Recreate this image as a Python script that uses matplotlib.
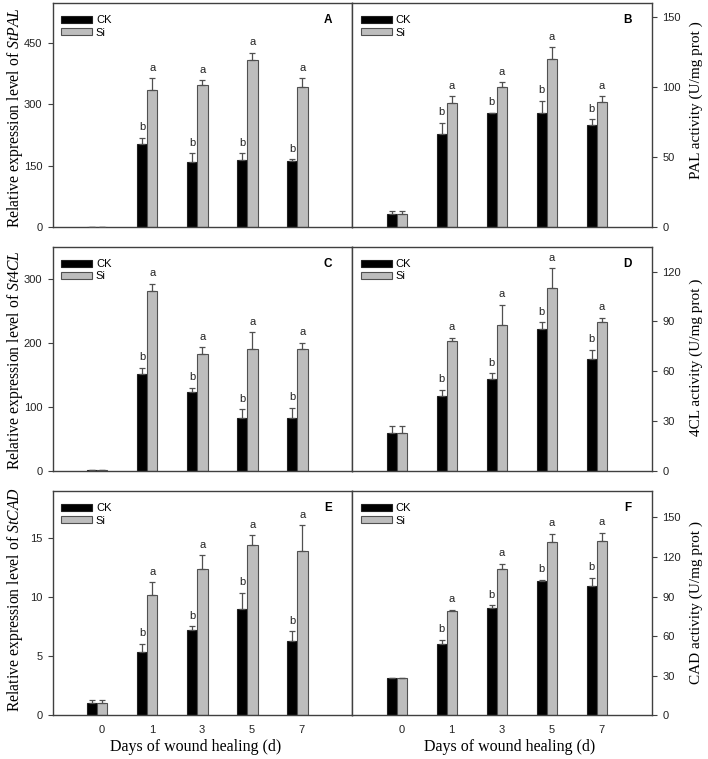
import matplotlib
matplotlib.use('Agg')
import matplotlib.pyplot as plt
import numpy as np

plt.rcParams['font.family'] = ['Liberation Sans', 'DejaVu Sans']
plt.rcParams['mathtext.fontset'] = 'custom'
plt.rcParams['mathtext.rm'] = 'Liberation Serif'
plt.rcParams['mathtext.it'] = 'Liberation Serif:italic'

# ---------------- data ----------------
days = ['0', '1', '3', '5', '7']
ck_letters = ['', 'b', 'b', 'b', 'b']
si_letters = ['', 'a', 'a', 'a', 'a']

A_ck = [1, 202, 159, 163, 162]
A_ck_err = [0.5, 16, 22, 17, 4]
A_si = [1, 336, 347, 409, 341]
A_si_err = [0.5, 27, 12, 17, 22]

B_ck = [9.5, 66.5, 81.2, 81.4, 73.1]
B_ck_err = [2, 8, 0.5, 8.8, 3.8]
B_si = [9.5, 89, 100.2, 120.3, 89.7]
B_si_err = [2, 4.7, 3.3, 8.3, 4]

C_ck = [1, 152, 123.5, 83, 82]
C_ck_err = [0.3, 9, 6.7, 13.5, 17]
C_si = [1, 281, 182, 190, 190]
C_si_err = [0.3, 11, 11, 27, 10]

D_ck = [22.8, 45.2, 55.6, 85.6, 67.6]
D_ck_err = [4.2, 3.8, 3.4, 3.8, 5.4]
D_si = [22.8, 78, 88, 110, 89.6]
D_si_err = [4.2, 2.2, 12, 12, 2.6]

E_ck = [1.0, 5.34, 7.25, 8.99, 6.32]
E_ck_err = [0.28, 0.73, 0.28, 1.4, 0.81]
E_si = [1.0, 10.22, 12.39, 14.41, 13.9]
E_si_err = [0.28, 1.07, 1.18, 0.84, 2.22]

F_ck = [28.1, 54.4, 81, 101.6, 97.8]
F_ck_err = [0.3, 2.8, 2.3, 1.2, 6.5]
F_si = [28.1, 79, 111.1, 131.4, 132.2]
F_si_err = [0.3, 1, 3.8, 6.3, 6.3]

left_labels = ['Relative expression level of $\\mathit{StPAL}$',
               'Relative expression level of $\\mathit{St4CL}$',
               'Relative expression level of $\\mathit{StCAD}$']
right_labels = ['PAL activity (U/mg prot )',
                '4CL activity (U/mg prot )',
                'CAD activity (U/mg prot )']
xlabel = 'Days of wound healing (d)'
panel_letters = ['A', 'B', 'C', 'D', 'E', 'F']

# ---------------- figure ----------------
W, H = 708, 759
fig = plt.figure(figsize=(W / 100, H / 100), dpi=100)

def fx(px):
    return px / W

def fy(py):
    return 1 - py / H

col_x = [(52.7, 352.3), (352.3, 652.0)]
row_y = [(3.0, 227.3), (246.7, 471.0), (491.0, 715.3)]

SPINE = '#404040'
CK_COLOR = '#000000'
SI_COLOR = '#bdbdbd'
EDGE = '#505050'

panels = [
    (A_ck, A_ck_err, A_si, A_si_err, 547, [0, 150, 300, 450]),
    (B_ck, B_ck_err, B_si, B_si_err, 160, [0, 50, 100, 150]),
    (C_ck, C_ck_err, C_si, C_si_err, 350, [0, 100, 200, 300]),
    (D_ck, D_ck_err, D_si, D_si_err, 135, [0, 30, 60, 90, 120]),
    (E_ck, E_ck_err, E_si, E_si_err, 19, [0, 5, 10, 15]),
    (F_ck, F_ck_err, F_si, F_si_err, 170, [0, 30, 60, 90, 120, 150]),
]

bw = 0.205
shift = -0.09
x = np.arange(len(days))

for i, (ck, ck_e, si, si_e, ymax, yt) in enumerate(panels):
    r, c = divmod(i, 2)
    x0, x1 = col_x[c]
    y0, y1 = row_y[r]
    ax = fig.add_axes([fx(x0), fy(y1), fx(x1 - x0), (y1 - y0) / H])
    n = len(days)
    xc = x + shift - bw / 2
    xs = x + shift + bw / 2
    ax.bar(xc, ck, bw, color=CK_COLOR, edgecolor='#202020', linewidth=0.8,
           label='CK', zorder=2)
    ax.bar(xs, si, bw, color=SI_COLOR, edgecolor=EDGE, linewidth=0.8,
           label='Si', zorder=2)
    ax.errorbar(xc, ck, yerr=[np.zeros(n), ck_e], fmt='none', ecolor=EDGE,
                elinewidth=0.9, capsize=2.5, capthick=0.9, zorder=3)
    ax.errorbar(xs, si, yerr=[np.zeros(n), si_e], fmt='none', ecolor=EDGE,
                elinewidth=0.9, capsize=2.5, capthick=0.9, zorder=3)
    for k in range(n):
        if ck_letters[k]:
            ax.annotate(ck_letters[k], (xc[k], ck[k] + ck_e[k]),
                        xytext=(0, 7.5), textcoords='offset points',
                        ha='center', va='center', fontsize=8, color='#222222')
        if si_letters[k]:
            ax.annotate(si_letters[k], (xs[k], si[k] + si_e[k]),
                        xytext=(0, 7.5), textcoords='offset points',
                        ha='center', va='center', fontsize=8, color='#222222')
    ax.set_xlim(-0.98, 5.01)
    ax.set_ylim(0, ymax)
    ax.set_yticks(yt)
    ax.set_xticks(x)
    if r == 2:
        ax.set_xticklabels(days)
    else:
        ax.set_xticklabels([])
    ax.tick_params(axis='x', length=0, labelsize=8, colors='#222222', pad=7)
    ax.tick_params(axis='y', direction='out', length=3.5, width=0.8,
                   color=SPINE, labelsize=8, labelcolor='#222222', pad=4)
    if c == 1:
        ax.yaxis.tick_right()
        ax.yaxis.set_label_position('right')
    for sp in ax.spines.values():
        sp.set_color(SPINE)
        sp.set_linewidth(1.0)
    ax.text(0.918, 0.925, panel_letters[i], transform=ax.transAxes,
            ha='center', va='center', fontsize=8.5, fontweight='bold')
    ax.legend(loc='upper left', bbox_to_anchor=(0.02, 0.955),
              frameon=False, fontsize=8, handlelength=2.8,
              handleheight=0.6, handletextpad=0.35, labelspacing=0.2,
              borderaxespad=0, borderpad=0.2)

# axis titles
left_centers = [118, 360, 600]
right_centers = [100, 357, 603]
for r in range(3):
    fig.text(fx(15), fy(left_centers[r]), left_labels[r], rotation=90,
             ha='center', va='center', fontsize=11.3,
             family='Liberation Serif')
    fig.text(fx(696), fy(right_centers[r]), right_labels[r], rotation=90,
             ha='center', va='center', fontsize=11,
             family='Liberation Serif')
fig.text(fx(196), fy(747), xlabel, ha='center', va='center', fontsize=11.5,
         family='Liberation Serif')
fig.text(fx(510), fy(747), xlabel, ha='center', va='center', fontsize=11.5,
         family='Liberation Serif')

fig.savefig('out.png', dpi=100)
